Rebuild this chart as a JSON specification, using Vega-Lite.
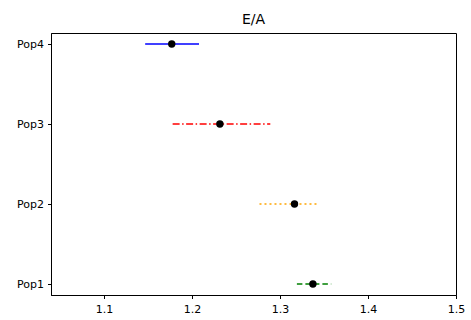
{
  "$schema": "https://vega.github.io/schema/vega-lite/v6.json",
  "autosize": {"type": "none"},
  "width": 405,
  "height": 262,
  "padding": {"left": 51, "top": 33, "right": 15, "bottom": 25},
  "background": "white",
  "config": {
    "font": "DejaVu Sans",
    "view": {"stroke": "black", "strokeWidth": 1},
    "axis": {"domainColor": "black", "tickColor": "black", "labelColor": "black", "grid": false, "labelFont": "DejaVu Sans", "labelFontSize": 11, "tickSize": 3.5, "domainWidth": 1, "tickWidth": 1}
  },
  "title": {"text": "E/A", "fontSize": 14, "fontWeight": "normal", "font": "DejaVu Sans", "color": "black", "offset": 6},
  "data": {
    "values": [
      {"pop": "Pop1", "mean": 1.3374, "lo": 1.3192, "hi": 1.3582},
      {"pop": "Pop2", "mean": 1.3165, "lo": 1.2767, "hi": 1.3442},
      {"pop": "Pop3", "mean": 1.2317, "lo": 1.178, "hi": 1.289},
      {"pop": "Pop4", "mean": 1.177, "lo": 1.1468, "hi": 1.208}
    ]
  },
  "encoding": {
    "y": {"field": "pop", "type": "nominal", "sort": ["Pop4", "Pop3", "Pop2", "Pop1"],
      "scale": {"type": "point", "padding": 0.1375},
      "axis": {"title": null, "labelPadding": 4}}
  },
  "layer": [
    {
      "mark": {"type": "rule", "strokeWidth": 1.7},
      "encoding": {
        "x": {"field": "lo", "type": "quantitative", "scale": {"domain": [1.0398, 1.5], "nice": false, "zero": false},
          "axis": {"title": null, "values": [1.1, 1.2, 1.3, 1.4, 1.5], "format": ".1f", "labelFlush": false, "labelPadding": 5}},
        "x2": {"field": "hi"},
        "color": {"field": "pop", "type": "nominal", "legend": null,
          "scale": {"domain": ["Pop1", "Pop2", "Pop3", "Pop4"], "range": ["#008000", "#ffa500", "#ff0000", "#0000ff"]}},
        "strokeDash": {"field": "pop", "type": "nominal", "legend": null,
          "scale": {"domain": ["Pop1", "Pop2", "Pop3", "Pop4"], "range": [[5.5, 3], [2, 3], [7, 2.5, 1.5, 2.5], [1, 0]]}}
      }
    },
    {
      "mark": {"type": "point", "filled": true, "color": "black", "size": 55, "opacity": 1},
      "encoding": {
        "x": {"field": "mean", "type": "quantitative"}
      }
    }
  ]
}
